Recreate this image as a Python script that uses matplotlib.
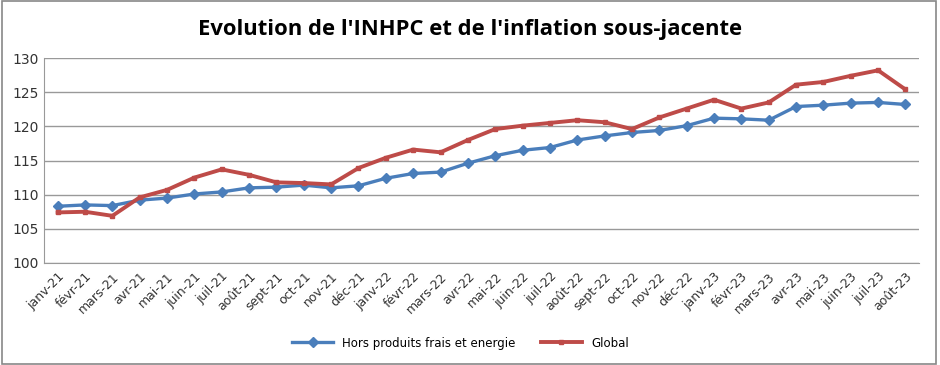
import matplotlib.pyplot as plt
from matplotlib.patches import Rectangle

mois = ["janv-21", "févr-21", "mars-21", "avr-21", "mai-21", "juin-21", "juil-21", "août-21",
        "sept-21", "oct-21", "nov-21", "déc-21", "janv-22", "févr-22", "mars-22", "avr-22",
        "mai-22", "juin-22", "juil-22", "août-22", "sept-22", "oct-22", "nov-22", "déc-22",
        "janv-23", "févr-23", "mars-23", "avr-23", "mai-23", "juin-23", "juil-23", "août-23"]

hors_frais = [108.3, 108.5, 108.4, 109.2, 109.5, 110.1, 110.4, 111.0,
              111.1, 111.4, 111.0, 111.3, 112.4, 113.1, 113.3, 114.6,
              115.7, 116.5, 116.9, 118.0, 118.6, 119.1, 119.4, 120.1,
              121.2, 121.1, 120.9, 122.9, 123.1, 123.4, 123.5, 123.2]

global_ = [107.4, 107.5, 106.9, 109.6, 110.7, 112.5, 113.7, 112.9,
           111.8, 111.7, 111.5, 113.9, 115.4, 116.6, 116.2, 118.0,
           119.6, 120.1, 120.5, 120.9, 120.6, 119.6, 121.3, 122.6,
           123.9, 122.6, 123.5, 126.1, 126.5, 127.4, 128.2, 125.4]

plt.rcParams['font.family'] = ['Liberation Sans Narrow', 'DejaVu Sans']

fig = plt.figure(figsize=(9.4, 3.65), dpi=100)
ax = fig.add_axes([0.0468, 0.2795, 0.931, 0.5615])

x = range(len(mois))
ax.plot(x, hors_frais, color="#4A7EBB", lw=2.4, marker="D", ms=5.5,
        label="Hors produits frais et energie")
ax.plot(x, global_, color="#BE4B48", lw=2.8, marker="s", ms=2.5,
        label="Global")

ax.set_xlim(-0.5, len(mois) - 0.5)
ax.set_ylim(100, 130)
ax.set_yticks(range(100, 131, 5))
ax.set_xticks(list(x))
ax.set_xticklabels(mois, rotation=45, ha="right", rotation_mode="anchor", fontsize=9)
ax.tick_params(axis="y", labelsize=10, length=0, colors="#333333")
ax.tick_params(axis="x", length=0, colors="#333333", pad=5)
ax.grid(axis="y", color="#999999", lw=1)
ax.set_axisbelow(True)
for s in ["top", "right"]:
    ax.spines[s].set_visible(False)
ax.spines["left"].set_color("#999999")
ax.spines["bottom"].set_color("#999999")

fig.text(0.5, 0.92, "Evolution de l'INHPC et de l'inflation sous-jacente",
         ha="center", va="center", fontsize=15.8, fontweight="bold",
         family=["Open Sans", "DejaVu Sans"])

fig.legend(loc="center", bbox_to_anchor=(0.49, 0.06), ncol=2, frameon=False,
           fontsize=8.5, handlelength=3.4, columnspacing=2.2)

fig.patches.append(Rectangle((0.002, 0.003), 0.994, 0.994, transform=fig.transFigure,
                             fill=False, edgecolor="#888888", lw=1.2))

fig.savefig("out.png", dpi=100)
